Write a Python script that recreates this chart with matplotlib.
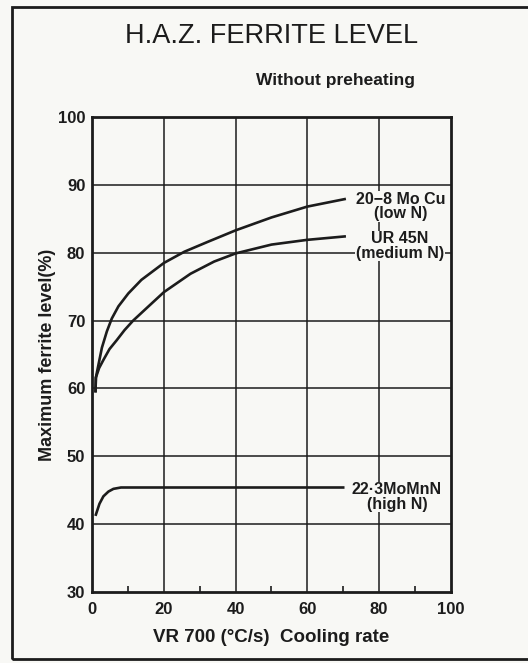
import matplotlib
matplotlib.use("Agg")
import matplotlib.pyplot as plt
from matplotlib.patches import Rectangle

plt.rcParams['font.family'] = ['Liberation Sans', 'DejaVu Sans']

# cooling rate (°C/s) vs. maximum ferrite level (%)
moCu_x = [0.9, 1.0, 1.76, 2.68, 4.06, 5.44, 7.29, 10.05, 13.7, 20.0, 25.7, 32.2, 40, 50, 60, 70.4]
moCu_y = [59.6, 61.6, 63.6, 66.0, 68.4, 70.3, 72.1, 74.0, 76.0, 78.5, 80.15, 81.6, 83.3, 85.2, 86.8, 87.9]

ur45_x = [0.9, 1.0, 1.9, 3.1, 4.8, 6.8, 9.0, 11.4, 16.1, 20.0, 27.4, 34.0, 40, 50, 60, 70.4]
ur45_y = [59.6, 61.6, 63.0, 64.2, 65.8, 67.1, 68.6, 70.0, 72.3, 74.2, 76.9, 78.7, 79.9, 81.2, 81.9, 82.4]

mnN_x = [1.0, 2.0, 3.1, 4.5, 5.9, 8, 20, 40, 60, 70]
mnN_y = [41.4, 43.0, 44.1, 44.8, 45.2, 45.4, 45.4, 45.4, 45.4, 45.4]

x_ticks = [0, 20, 40, 60, 80, 100]
y_ticks = [30, 40, 50, 60, 70, 80, 90, 100]

bg = '#f8f8f5'
ink = '#1c1c1c'

fig = plt.figure(figsize=(5.28, 6.63), dpi=100, facecolor=bg)
ax = fig.add_axes([0.1748, 0.1071, 0.6788, 0.7164], facecolor=bg)

for xv in x_ticks[1:-1]:
    ax.axvline(xv, color=ink, lw=1.1, zorder=1)
for yv in y_ticks[1:-1]:
    ax.axhline(yv, color=ink, lw=1.1, zorder=1)

for xs, ys in [(moCu_x, moCu_y), (ur45_x, ur45_y), (mnN_x, mnN_y)]:
    ax.plot(xs, ys, color=ink, lw=1.9, zorder=3, solid_joinstyle='round')

lbl = dict(ha='center', va='center', fontsize=11.5, fontweight='bold', color=ink,
           linespacing=0.95, zorder=4,
           bbox=dict(facecolor=bg, edgecolor='none', pad=0.5))
ax.text(86.1, 86.8, '20\u22128 Mo Cu\n(low N)', **lbl)
ax.text(85.8, 81.0, 'UR 45N\n(medium N)', **lbl)
ax.text(85.0, 44.0, '22\u00b73MoMnN\n(high N)', **lbl)

ax.set_xlim(0, 100)
ax.set_ylim(30, 100)
ax.set_xticks(x_ticks)
ax.set_yticks(y_ticks)
ax.set_xticks([10, 30, 50, 70, 90], minor=True)
ax.tick_params(axis='both', which='major', length=0, pad=5, labelsize=12, colors=ink)
ax.tick_params(axis='x', which='major', pad=7)
ax.tick_params(axis='x', which='minor', direction='in', length=4, width=1.2, color=ink)
for t in ax.get_xticklabels() + ax.get_yticklabels():
    t.set_fontweight('bold')
for s in ax.spines.values():
    s.set_linewidth(2.0)
    s.set_color(ink)

ax.set_xlabel('VR 700 (\u00b0C/s)  Cooling rate', fontsize=13.5, fontweight='bold',
              color=ink, labelpad=9)
ax.set_ylabel('Maximum ferrite level(%)', fontsize=13, fontweight='bold',
              color=ink, labelpad=1)

fig.text(0.514, 0.946, 'H.A.Z. FERRITE LEVEL', ha='center', va='center',
         fontsize=19.5, color=ink)
fig.text(0.786, 0.879, 'Without preheating', ha='right', va='center',
         fontsize=12.5, fontweight='bold', color=ink)

# outer frame, open on the right side
fig.patches.append(Rectangle((12 / 528, 1 - 659 / 663), 1.2, (659 - 7) / 663,
                             transform=fig.transFigure, fill=False,
                             edgecolor=ink, lw=2.0))

fig.savefig('out.png', dpi=100, facecolor=bg)
